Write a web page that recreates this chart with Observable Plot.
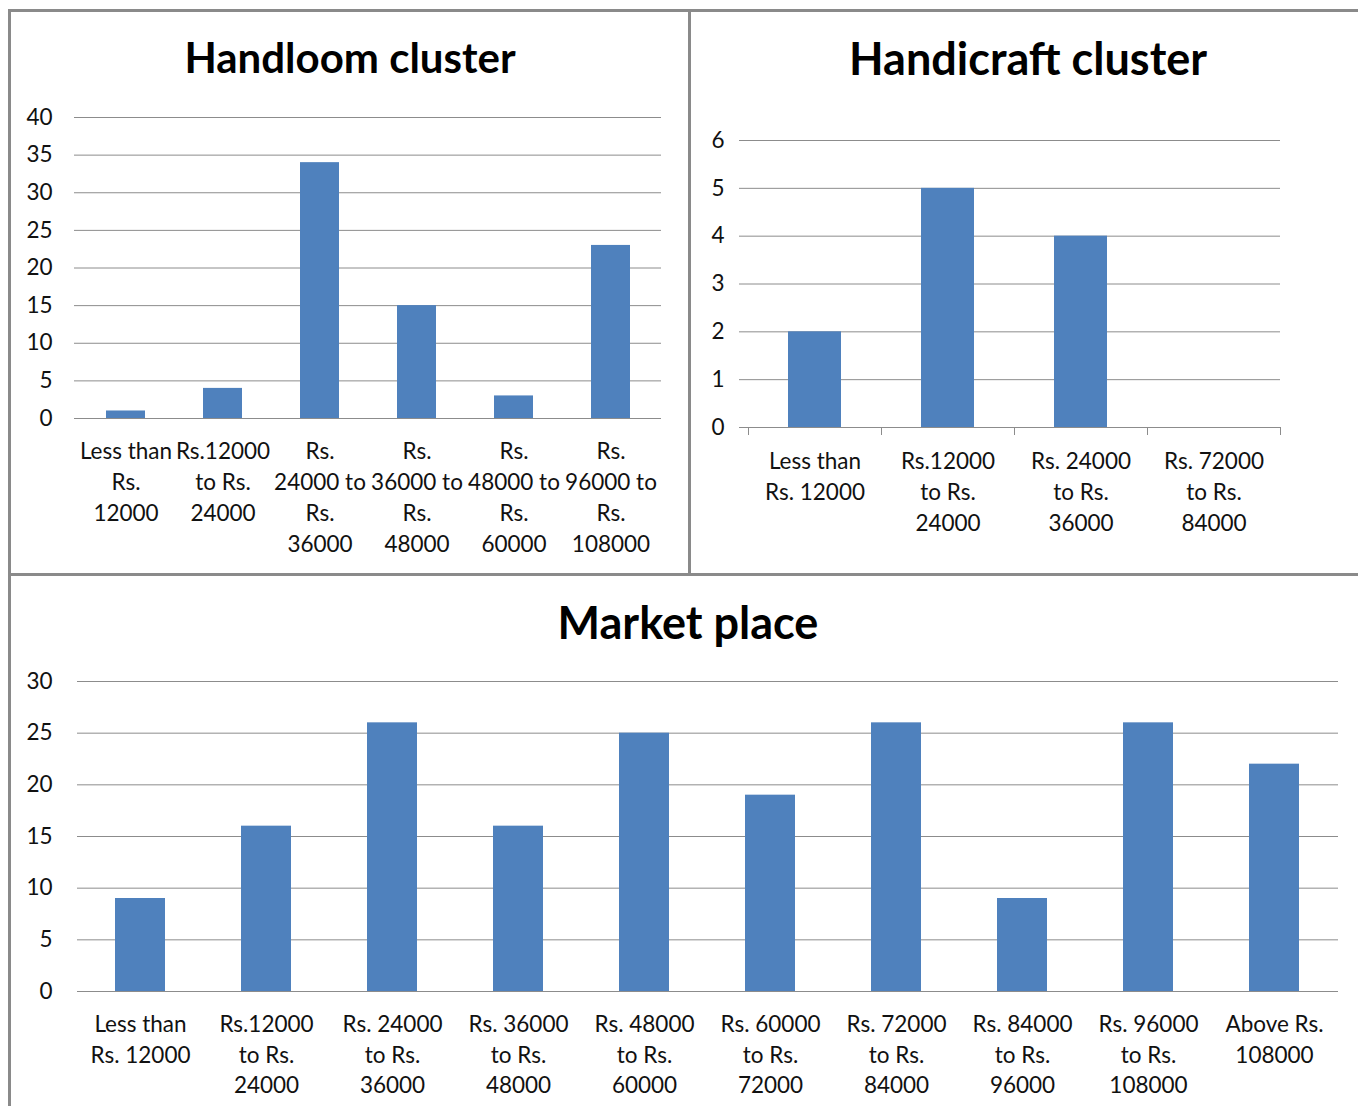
<!DOCTYPE html>
<html>
<head>
<meta charset="utf-8">
<script src="https://cdn.jsdelivr.net/npm/d3@7"></script>
<script src="https://cdn.jsdelivr.net/npm/@observablehq/plot@0.6"></script>
<style>
  html, body { margin: 0; padding: 0; background: #fff; }
  #page { position: relative; width: 1358px; height: 1106px; overflow: hidden; background: #fff; font-family: Lato, "Open Sans", sans-serif; }
  .rule { position: absolute; background: #8a8a8a; }
  .title { position: absolute; text-align: center; font-weight: bold; font-size: 42px; color: #000; line-height: 1; }
  .chart { position: absolute; }
  .chart svg { overflow: visible; }
</style>
</head>
<body>
<div id="page">
  <div class="rule" style="left:8px; top:9px; width:1350px; height:3px;"></div>
  <div class="rule" style="left:8px; top:9px; width:3px; height:1097px;"></div>
  <div class="rule" style="left:688px; top:9px; width:3px; height:566px;"></div>
  <div class="rule" style="left:8px; top:573px; width:1350px; height:3px;"></div>

  <div class="title" style="left:10px; width:680px; top:36px;">Handloom cluster</div>
  <div class="title" style="left:690px; width:676px; top:36px; font-size:45px;">Handicraft cluster</div>
  <div class="title" style="left:10px; width:1356px; top:600px; font-size:45px;">Market place</div>

  <div class="chart" id="handloom" style="left:10px; top:90px;"></div>
  <div class="chart" id="handicraft" style="left:690px; top:90px;"></div>
  <div class="chart" id="market" style="left:10px; top:650px;"></div>
</div>
<script>
// Annual income groups and the number of respondents in each
const handloomCategories = [
  "Less than Rs. 12000", "Rs.12000 to Rs. 24000", "Rs. 24000 to Rs. 36000",
  "Rs. 36000 to Rs. 48000", "Rs. 48000 to Rs. 60000", "Rs. 96000 to Rs. 108000"
];
const handloomValues = [1, 4, 34, 15, 3, 23];
const handloomTickLabels = [
  "Less than\nRs.\n12000", "Rs.12000\nto Rs.\n24000", "Rs.\n24000 to\nRs.\n36000",
  "Rs.\n36000 to\nRs.\n48000", "Rs.\n48000 to\nRs.\n60000", "Rs.\n96000 to\nRs.\n108000"
];
const handloomYTicks = [0, 5, 10, 15, 20, 25, 30, 35, 40];

const handicraftCategories = [
  "Less than Rs. 12000", "Rs.12000 to Rs. 24000", "Rs. 24000 to Rs. 36000", "Rs. 72000 to Rs. 84000"
];
const handicraftValues = [2, 5, 4, 0];
const handicraftTickLabels = [
  "Less than\nRs. 12000", "Rs.12000\nto Rs.\n24000", "Rs. 24000\nto Rs.\n36000", "Rs. 72000\nto Rs.\n84000"
];
const handicraftYTicks = [0, 1, 2, 3, 4, 5, 6];

const marketCategories = [
  "Less than Rs. 12000", "Rs.12000 to Rs. 24000", "Rs. 24000 to Rs. 36000", "Rs. 36000 to Rs. 48000",
  "Rs. 48000 to Rs. 60000", "Rs. 60000 to Rs. 72000", "Rs. 72000 to Rs. 84000", "Rs. 84000 to Rs. 96000",
  "Rs. 96000 to Rs. 108000", "Above Rs. 108000"
];
const marketValues = [9, 16, 26, 16, 25, 19, 26, 9, 26, 22];
const marketTickLabels = [
  "Less than\nRs. 12000", "Rs.12000\nto Rs.\n24000", "Rs. 24000\nto Rs.\n36000", "Rs. 36000\nto Rs.\n48000",
  "Rs. 48000\nto Rs.\n60000", "Rs. 60000\nto Rs.\n72000", "Rs. 72000\nto Rs.\n84000", "Rs. 84000\nto Rs.\n96000",
  "Rs. 96000\nto Rs.\n108000", "Above Rs.\n108000"
];
const marketYTicks = [0, 5, 10, 15, 20, 25, 30];

const BAR = "#4f81bd";
const GRID = "#8c8c8c";
const FONT = "Lato, 'Open Sans', sans-serif";
const TICK_FONT = 22.5;

function columnChart({categories, values, tickLabels, yTicks, width, height, margins, yTickSize, yTickPadding, xTickPadding, lineHeight, categoryTicks}) {
  const data = categories.map((c, i) => ({category: c, value: values[i]}));
  const label = new Map(categories.map((c, i) => [c, tickLabels[i]]));
  const step = (width - margins.left - margins.right) / categories.length;
  const marks = [
    Plot.gridY(yTicks, {stroke: GRID, strokeOpacity: 1, strokeWidth: 1}),
    Plot.barY(data, {x: "category", y: "value", fill: BAR}),
    Plot.ruleX([0], {frameAnchor: "left", stroke: GRID, strokeWidth: 1.2}),
    Plot.ruleY([0], {stroke: GRID, strokeWidth: 1.2}),
    Plot.axisY(yTicks, {
      label: null, tickSize: yTickSize, tickPadding: yTickPadding, stroke: GRID,
      fontSize: TICK_FONT, fill: "#111", tickFormat: d3.format("d")
    }),
    Plot.axisX({
      label: null, tickSize: 0, tickPadding: xTickPadding, fontSize: TICK_FONT, fill: "#111",
      lineHeight, textAnchor: "middle", lineAnchor: "top",
      tickFormat: (d) => label.get(d)
    })
  ];
  if (categoryTicks) {
    // short ticks below the baseline at the edges of each category slot
    marks.push(Plot.axisX({label: null, text: null, tickSize: 8, stroke: GRID, dx: -step / 2}));
    marks.push(Plot.axisX(categories.slice(-1), {label: null, text: null, tickSize: 8, stroke: GRID, dx: step / 2}));
  }
  return Plot.plot({
    width, height,
    marginLeft: margins.left, marginRight: margins.right,
    marginTop: margins.top, marginBottom: margins.bottom,
    style: {fontFamily: FONT, background: "transparent", color: "#111"},
    x: {domain: categories, paddingInner: 0.6, paddingOuter: 0.3, axis: null},
    y: {domain: [yTicks[0], yTicks[yTicks.length - 1]], axis: null},
    marks
  });
}

document.getElementById("handloom").append(columnChart({
  categories: handloomCategories, values: handloomValues, tickLabels: handloomTickLabels, yTicks: handloomYTicks,
  width: 680, height: 480, margins: {left: 64, right: 29, top: 27, bottom: 152},
  yTickSize: 0, yTickPadding: 22, xTickPadding: 18, lineHeight: 1.38, categoryTicks: false
}));

document.getElementById("handicraft").append(columnChart({
  categories: handicraftCategories, values: handicraftValues, tickLabels: handicraftTickLabels, yTicks: handicraftYTicks,
  width: 668, height: 480, margins: {left: 58, right: 78, top: 50, bottom: 143},
  yTickSize: 9, yTickPadding: 15, xTickPadding: 19, lineHeight: 1.39, categoryTicks: true
}));

document.getElementById("market").append(columnChart({
  categories: marketCategories, values: marketValues, tickLabels: marketTickLabels, yTicks: marketYTicks,
  width: 1348, height: 456, margins: {left: 67, right: 20, top: 31, bottom: 115},
  yTickSize: 0, yTickPadding: 25, xTickPadding: 19, lineHeight: 1.36, categoryTicks: false
}));
</script>
</body>
</html>
